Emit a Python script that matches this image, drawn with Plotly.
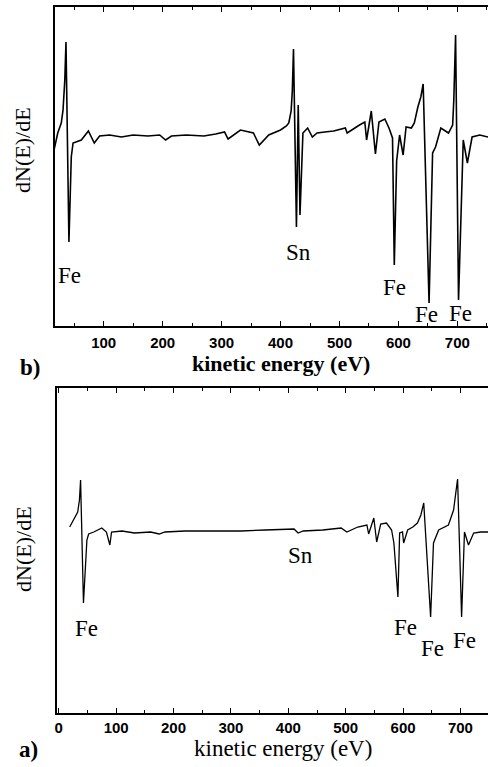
import plotly.graph_objects as go

# ---------- data ----------
# b) top panel: kinetic energy (eV) and dN(E)/dE (arbitrary units)
energy_b = [15, 22, 28, 31, 34, 36, 41, 45, 48, 53, 62, 74, 84, 93, 110, 130, 150, 175, 195, 205, 215,
            240, 270, 290, 305, 311, 320, 332, 354, 364, 380, 400, 410, 414, 418, 420, 422, 427, 430, 433,
            438, 446, 454, 462, 475, 490, 510, 513, 534, 543, 546, 554, 561, 567, 577, 584, 590,
            593, 597, 602, 608, 613, 622, 627, 633, 638, 642, 652, 658, 663, 672, 685, 692, 694, 697,
            702, 710, 717, 725, 738, 752]
dnde_b = [-16, 3, 13, 26, 56, 94, -106, -21, -7, -6, -4, 5, -7, 0, 1, -1, 1, 0, 1, -4, 0,
          1, 0, 2, 4, -3, 1, 6, 3, -9, 1, 6, 10, 13, 25, 45, 87, -91, 31, -79,
          3, 8, -1, 3, 4, 5, 8, 3, 11, 14, -4, 25, -18, 14, 17, 8, -2,
          -129, -25, 1, -19, 9, 8, 13, 29, 39, 52, -167, -17, -11, 8, 3, 11, 36, 101,
          -164, -4, -27, -1, 1, -1]

# a) bottom panel
energy_a = [19, 26, 33, 36, 38, 43, 47, 49, 52, 61, 75, 83, 89, 92, 110, 132, 160, 175, 185, 220, 261,
            318, 360, 410, 417, 426, 460, 492, 502, 521, 537, 540, 549, 554, 561, 571, 580, 584,
            591, 594, 599, 601, 608, 617, 625, 631, 636, 648, 653, 662, 679, 688, 695, 702, 707, 714,
            723, 735, 749]
dnde_a = [5, 12, 20, 32, 52, -71, -20, -8, -2, 0, 4, 0, -13, 0, 1, -1, 0, -2, 0, 1, 1,
          1, 2, 3, -1, 1, 2, 4, 0, 5, 7, -2, 14, -10, 8, 9, 2, -11,
          -65, -1, 0, -11, 2, 5, 9, 17, 29, -85, -11, 2, 7, 22, 53, -85, 0, -13,
          -1, 0, 0]

# peak labels
lab_b_text = ["Fe", "Sn", "Fe", "Fe", "Fe"]
lab_b_x = [42, 430, 593, 648, 705]
lab_b_y = [-139, -116, -151, -178, -177]

lab_a_text = ["Fe", "Sn", "Fe", "Fe", "Fe"]
lab_a_x = [49, 422, 604, 651, 707]
lab_a_y = [-96, -23, -95, -116, -108]

tick_vals = [0, 100, 200, 300, 400, 500, 600, 700]
tick_text = ["0", "100", "200", "300", "400", "500", "600", "700"]

# ---------- figure ----------
W, H = 488, 767
fig = go.Figure()
fig.add_trace(go.Scatter(x=energy_b, y=dnde_b, mode="lines", xaxis="x", yaxis="y",
                         line=dict(color="black", width=1.6), showlegend=False))
fig.add_trace(go.Scatter(x=energy_a, y=dnde_a, mode="lines", xaxis="x2", yaxis="y2",
                         line=dict(color="black", width=1.3), showlegend=False))

serif = "Liberation Serif, Times New Roman, serif"
sans = "Liberation Sans, Arial, sans-serif"

xcommon = dict(showline=True, linecolor="black", linewidth=1.5, mirror="ticks",
               ticks="inside", ticklen=5, tickwidth=1.2, tickcolor="black",
               tickvals=tick_vals, ticktext=tick_text,
               minor=dict(ticks="inside", dtick=50, ticklen=3, tickwidth=1, tickcolor="black"),
               showgrid=False, zeroline=False,
               tickfont=dict(family=sans, size=15, color="black", weight="bold"))
ycommon = dict(showline=True, linecolor="black", linewidth=1.5, ticks="",
               showticklabels=False, showgrid=False, zeroline=False)

fig.update_layout(
    width=W, height=H, margin=dict(l=0, r=0, t=0, b=0),
    paper_bgcolor="white", plot_bgcolor="white",
    xaxis=dict(domain=[53 / W, 1], anchor="y", range=[17, 752], ticklabelstandoff=2, **xcommon),
    yaxis=dict(domain=[1 - 326 / H, 1 - 7 / H], anchor="x", range=[-190, 129], **ycommon),
    xaxis2=dict(domain=[55 / W, 1], anchor="y2", range=[-3.5, 748], ticklabelstandoff=0, **xcommon),
    yaxis2=dict(domain=[1 - 713 / H, 1 - 388 / H], anchor="x2", range=[-181, 144], **ycommon),
)

ann = []
for t, x, y in zip(lab_b_text, lab_b_x, lab_b_y):
    ann.append(dict(text=t, x=x, y=y, xref="x", yref="y", showarrow=False,
                    xanchor="center", yanchor="middle",
                    font=dict(family=serif, size=23, color="black")))
for t, x, y in zip(lab_a_text, lab_a_x, lab_a_y):
    ann.append(dict(text=t, x=x, y=y, xref="x2", yref="y2", showarrow=False,
                    xanchor="center", yanchor="middle",
                    font=dict(family=serif, size=23, color="black")))

paper_texts = [
    ("<b>kinetic energy (eV)</b>", 280, 363, 22, 0),
    ("kinetic energy (eV)", 282, 748, 23, 0),
    ("<b>b)</b>", 28, 367, 23, 0),
    ("<b>a)</b>", 27, 749, 23, 0),
    ("dN(E)/dE", 21, 150, 22, -90),
    ("dN(E)/dE", 21, 549, 22, -90),
]
for t, px, py, sz, ang in paper_texts:
    ann.append(dict(text=t, x=px / W, y=1 - py / H, xref="paper", yref="paper",
                    xanchor="center", yanchor="middle", textangle=ang, showarrow=False,
                    font=dict(family=serif, size=sz, color="black")))
fig.update_layout(annotations=ann)

fig.write_html("out.html", config={"displayModeBar": False},
               post_script="document.body.style.margin='0px';document.body.style.overflow='hidden';")
